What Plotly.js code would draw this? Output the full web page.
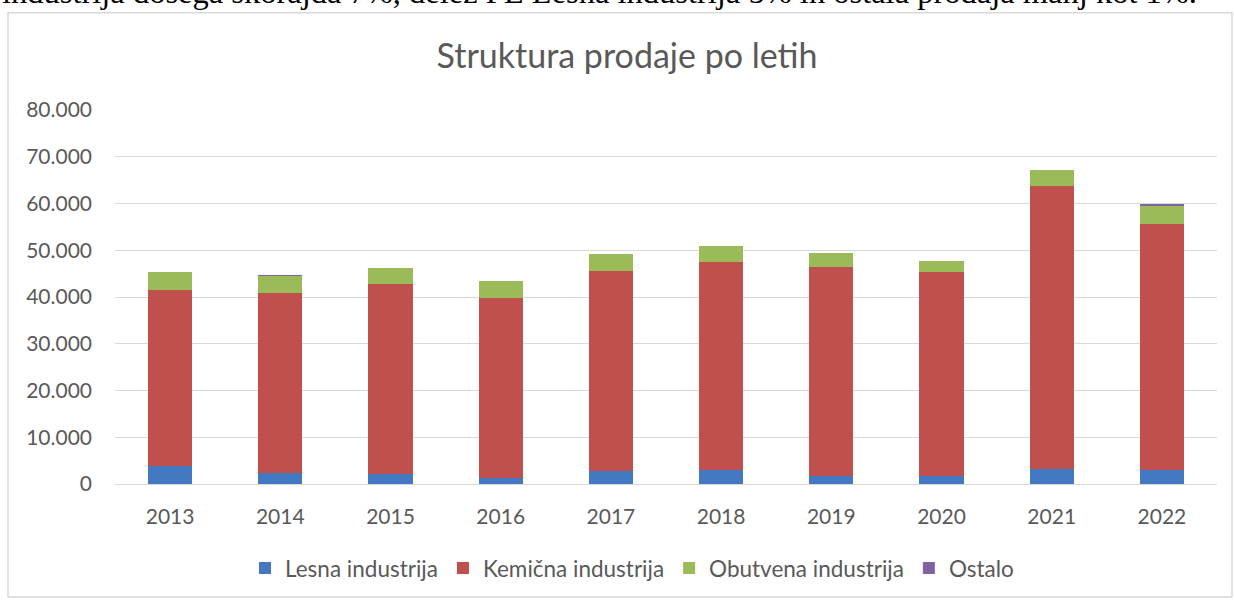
<!DOCTYPE html>
<html>
<head>
<meta charset="utf-8">
<script src="https://cdn.plot.ly/plotly-3.0.1.min.js"></script>
<style>
html,body{margin:0;padding:0;background:#fff;}
#chart{width:1234px;height:602px;}
</style>
</head>
<body>
<div id="chart"></div>
<script>
const years = ['2013','2014','2015','2016','2017','2018','2019','2020','2021','2022'];
const lesna = [3750, 2250, 2100, 1300, 2850, 2950, 1800, 1650, 3300, 3050];
const kemicna = [37800, 38600, 40700, 38400, 42700, 44600, 44650, 43600, 60550, 52500];
const obutvena = [3800, 3650, 3400, 3800, 3650, 3300, 2950, 2350, 3250, 3950];
const ostalo = [0, 120, 0, 0, 0, 0, 0, 0, 0, 500];
const names = ['Lesna industrija', 'Kemična industrija', 'Obutvena industrija', 'Ostalo'];
const colors = ['#4279C2', '#C0504D', '#9BBB59', '#8064A2'];
const titleText = 'Struktura prodaje po letih';
const topText = 'industrija dosega skorajda 7%, delež PE Lesna industrija 5% in ostala prodaja manj kot 1%.';

const series = [lesna, kemicna, obutvena, ostalo];
const traces = series.map((vals, i) => ({
  type: 'bar',
  x: years,
  y: vals,
  name: names[i],
  marker: {color: colors[i], line: {width: 0}},
  hoverinfo: 'x+y+name'
}));

// plot area geometry (pixels)
const L = 115, R = 17, T = 110, B = 115, W = 1234, H = 602;
const pw = W - L - R, ph = H - T - B;
const px = v => (v - L) / pw;
const py = v => (H - B - v) / ph;

const layout = {
  width: W,
  height: H,
  margin: {l: L, r: R, t: T, b: B, pad: 0},
  barmode: 'stack',
  bargap: 0.6,
  separators: ',.',
  paper_bgcolor: '#ffffff',
  plot_bgcolor: 'rgba(0,0,0,0)',
  font: {family: 'Lato, "Open Sans", sans-serif', color: '#595959', size: 21},
  title: {
    text: titleText,
    font: {family: 'Lato, "Open Sans", sans-serif', size: 34, color: '#595959'},
    x: 627 / W, xanchor: 'center', xref: 'container',
    y: 1 - 56 / H, yanchor: 'middle', yref: 'container'
  },
  xaxis: {
    type: 'category',
    showgrid: false,
    showline: true,
    linecolor: '#d9d9d9',
    linewidth: 1,
    ticks: '',
    tickfont: {size: 21, color: '#595959'},
    ticklabelstandoff: 14,
    fixedrange: true
  },
  yaxis: {
    range: [0, 80000],
    tickvals: [0, 10000, 20000, 30000, 40000, 50000, 60000, 70000, 80000],
    tickformat: ',d',
    showgrid: true,
    gridcolor: '#d9d9d9',
    gridwidth: 1,
    zeroline: false,
    showline: false,
    ticks: '',
    ticklabelstandoff: 22,
    tickfont: {size: 21, color: '#595959'},
    fixedrange: true
  },
  showlegend: true,
  legend: {
    orientation: 'h',
    x: px(632), xanchor: 'center',
    y: py(572), yanchor: 'middle',
    font: {size: 22.5, color: '#595959'},
    itemclick: false,
    itemdoubleclick: false,
    traceorder: 'normal',
    bgcolor: 'rgba(0,0,0,0)'
  },
  shapes: [{
    type: 'rect', layer: 'below',
    xref: 'paper', yref: 'paper',
    x0: px(8), x1: px(1232), y0: py(601), y1: py(12),
    line: {color: '#d9d9d9', width: 1.5},
    fillcolor: 'rgba(0,0,0,0)'
  }],
  annotations: [{
    text: topText,
    xref: 'paper', yref: 'paper',
    x: px(0), xanchor: 'left',
    y: py(11), yanchor: 'bottom',
    showarrow: false,
    font: {family: '"Liberation Serif", "Times New Roman", serif', size: 32.5, color: '#000000'}
  }],
  hovermode: 'closest'
};

Plotly.newPlot('chart', traces, layout, {displayModeBar: false, staticPlot: false});
</script>
</body>
</html>
